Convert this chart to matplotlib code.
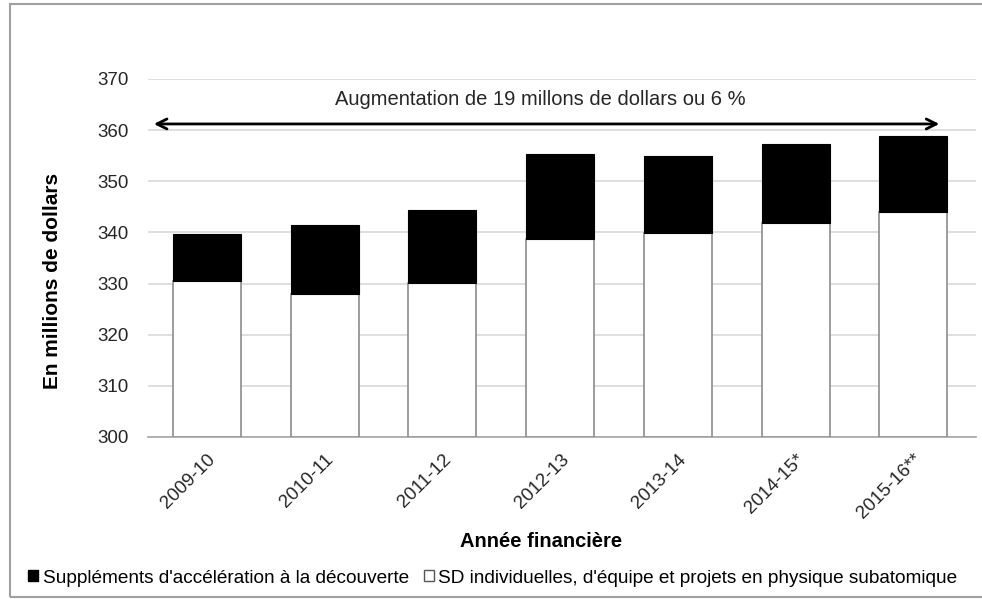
import matplotlib.pyplot as plt
from matplotlib.patches import Patch, Rectangle

# values (millions of dollars)
years = ["2009-10", "2010-11", "2011-12", "2012-13", "2013-14", "2014-15*", "2015-16**"]
sd_base = [330.5, 327.9, 330.2, 338.7, 339.8, 341.8, 343.9]
totals = [339.6, 341.5, 344.4, 355.3, 355.0, 357.3, 358.9]
supplements = [t - b for t, b in zip(totals, sd_base)]

plt.rcParams['font.family'] = ['Liberation Sans', 'DejaVu Sans']

fig = plt.figure(figsize=(9.82, 5.99), dpi=100)
ax = fig.add_axes([0.1507, 0.2705, 0.843, 0.5977])

x = range(len(years))
ax.bar(x, [b - 300 for b in sd_base], bottom=300, width=0.578,
       color="white", edgecolor="#8c8c8c", linewidth=1.2, zorder=3)
ax.bar(x, supplements, bottom=sd_base, width=0.578,
       color="black", edgecolor="black", linewidth=0.8, zorder=3)

ax.set_ylim(300, 370)
ax.set_xlim(-0.5, 6.53)
ax.set_yticks(range(300, 371, 10))
ax.grid(axis="y", color="#d9d9d9", linewidth=1.2, zorder=0)
ax.tick_params(axis="both", length=0, labelsize=13.5, colors="#262626")
ax.tick_params(axis="y", pad=14)
ax.tick_params(axis="x", pad=10)
ax.set_xticks(list(x))
ax.set_xticklabels(years, rotation=45, ha="right", rotation_mode="anchor")
for s in ["top", "right", "left"]:
    ax.spines[s].set_visible(False)
ax.spines["bottom"].set_color("#a6a6a6")
ax.spines["bottom"].set_linewidth(1.2)

ax.set_ylabel("En millions de dollars", fontsize=15, fontweight="bold")
ax.yaxis.set_label_coords(-0.104, 0.436)
ax.set_xlabel("Année financière", fontsize=14.5, fontweight="bold")
ax.xaxis.set_label_coords(0.475, -0.265)

# arrow across the top with the increase note
ax.annotate("", xy=(6.22, 361.2), xytext=(-0.45, 361.2),
            arrowprops=dict(arrowstyle="<->", color="black", lw=2,
                            mutation_scale=18, shrinkA=0, shrinkB=0), zorder=4)
ax.text(2.83, 365.9, "Augmentation de 19 millons de dollars ou 6 %",
        ha="center", va="center", fontsize=14.5, color="#262626")

handles = [Patch(facecolor="black", edgecolor="black"),
           Patch(facecolor="white", edgecolor="#555555")]
labels = ["Suppléments d'accélération à la découverte",
          "SD individuelles, d'équipe et projets en physique subatomique"]
fig.legend(handles, labels, loc="center", bbox_to_anchor=(0.502, 0.035), ncol=2,
           frameon=False, fontsize=13.7, handlelength=0.5, handleheight=0.5,
           handletextpad=0.25, columnspacing=0.8)

# thin gray frame around the figure
fig.patches.append(Rectangle((10 / 982, 2 / 599), 1.2, 593 / 599,
                             transform=fig.transFigure, fill=False,
                             edgecolor="#a0a0a0", linewidth=1.5))

fig.savefig("out.png", dpi=100)
